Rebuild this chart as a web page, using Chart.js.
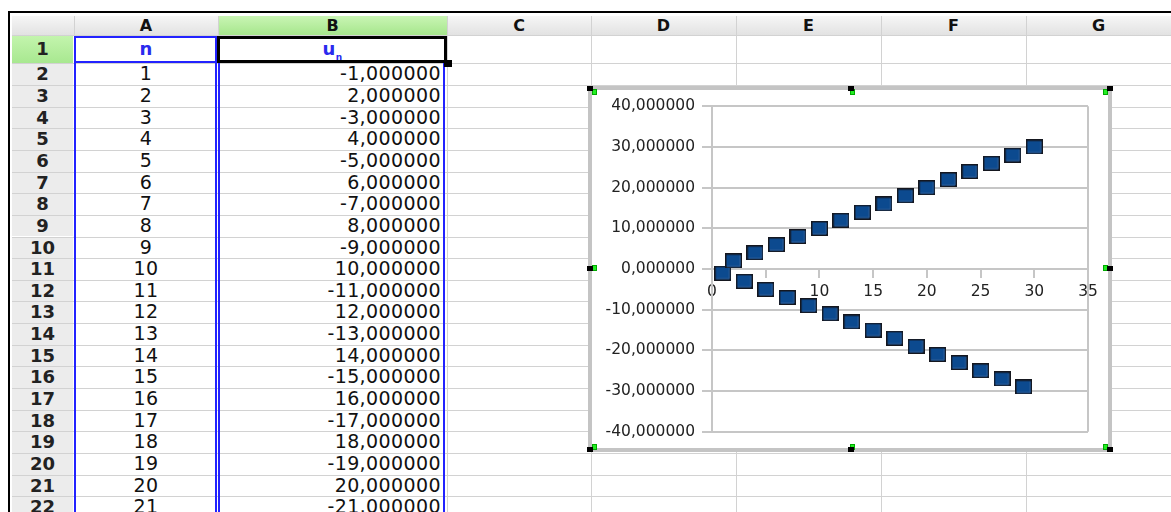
<!DOCTYPE html>
<html>
<head>
<meta charset="utf-8">
<script src="https://cdn.jsdelivr.net/npm/chart.js@4.4.0/dist/chart.umd.min.js"></script>
<style>
  body { margin: 0; background: #fff; width: 1171px; height: 512px; overflow: hidden; position: relative; font-family: "DejaVu Sans", sans-serif; }
  .c { position: absolute; box-sizing: border-box; }
  .hl { position: absolute; height: 1px; background: #d2d2d2; }
  .vl { position: absolute; width: 1px; background: #d2d2d2; }
  .colhead { position: absolute; top: 16px; height: 19px; line-height: 19px; text-align: center; font-weight: bold; font-size: 16px; color: #111;
             background: linear-gradient(#f6f6f6, #e2e2e2); }
  .rowhead { position: absolute; left: 12px; width: 61px; text-align: center; font-weight: bold; font-size: 18px; color: #222; background: #ececec; }
  .cell { position: absolute; font-size: 19px; letter-spacing: 0.4px; color: #111; white-space: nowrap; }
  #frame { position: absolute; left: 588px; top: 86px; width: 524px; height: 366px; border: 4px solid #c4c4c4; background: #fff; box-sizing: border-box; }
  #chart { position: absolute; left: 592px; top: 90px; }
  #handles { position: absolute; left: 0; top: 0; }
  .hb { position: absolute; width: 6px; height: 5px; background: #000; }
  .hg { position: absolute; width: 5px; height: 6px; background: #22ee22; border: 1px solid #0a0; box-sizing: border-box; }
</style>
</head>
<body>
<div id="sheet"></div>
<div id="frame"></div>
<canvas id="chart" width="516" height="358"></canvas>
<div id="handles"></div>
<script>
// values of column A (n) and column B (u_n)
const nValues = [1, 2, 3, 4, 5, 6, 7, 8, 9, 10, 11, 12, 13, 14, 15,
                 16, 17, 18, 19, 20, 21, 22, 23, 24, 25, 26, 27, 28, 29, 30];
const uValues = [-1, 2, -3, 4, -5, 6, -7, 8, -9, 10, -11, 12, -13, 14, -15,
                 16, -17, 18, -19, 20, -21, 22, -23, 24, -25, 26, -27, 28, -29, 30];
const columnLetters = ['A', 'B', 'C', 'D', 'E', 'F', 'G'];
const xTicks = [0, 5, 10, 15, 20, 25, 30, 35];
const yTicks = [-40, -30, -20, -10, 0, 10, 20, 30, 40];
const shownRows = 21;

function fmt(v) {
    return v.toFixed(6).replace('.', ',');
}

function add(cls, style, text, parent) {
    const d = document.createElement('div');
    d.className = cls;
    Object.assign(d.style, style);
    if (text !== undefined) d.innerHTML = text;
    document.getElementById(parent || 'sheet').appendChild(d);
    return d;
}

function buildSheet() {
    const colEdges = [74, 218, 447, 591, 736, 881, 1026, 1171];
    const rowTop = 63.3;
    const rowH = 21.65;

    // outer black frame
    add('c', { left: '8px', top: '11px', width: '1163px', height: '2px', background: '#000' });
    add('c', { left: '8px', top: '11px', width: '2px', height: '501px', background: '#000' });

    // column headers
    add('c', { left: '12px', top: '16px', width: '62px', height: '19px', background: 'linear-gradient(#f6f6f6, #e2e2e2)' });
    columnLetters.forEach((l, i) => {
        const d = add('colhead', { left: colEdges[i] + 'px', width: (colEdges[i + 1] - colEdges[i]) + 'px' }, l);
        if (l === 'B') d.style.background = 'linear-gradient(#c9f5b4, #a6e68c)';
    });

    // row headers
    add('rowhead', { top: '35px', height: '28px', lineHeight: '28px', background: 'linear-gradient(#c4f5ae, #a8e890)' }, '1');
    for (let r = 0; r < shownRows + 1; r++) {
        const top = rowTop + r * rowH;
        add('rowhead', { top: top + 'px', height: rowH + 'px', lineHeight: rowH + 'px' }, String(r + 2));
    }

    // grid lines
    add('hl', { left: '12px', top: '35px', width: '1159px' });
    for (let r = 0; r < shownRows + 2; r++) {
        add('hl', { left: '12px', top: (rowTop + r * rowH) + 'px', width: '1159px' });
    }
    colEdges.forEach(x => add('vl', { left: x + 'px', top: '16px', height: '496px' }));

    // header cells
    add('cell', { left: '74px', top: '35px', width: '144px', height: '28px', lineHeight: '28px', textAlign: 'center',
                  fontWeight: 'bold', color: '#2a2aee', fontSize: '18px' }, 'n');
    add('cell', { left: '218px', top: '35px', width: '229px', height: '28px', lineHeight: '28px', textAlign: 'center',
                  fontWeight: 'bold', color: '#2a2aee', fontSize: '18px' }, 'u<sub style="font-size:9px">n</sub>');

    // data cells
    for (let r = 0; r < shownRows; r++) {
        const top = rowTop + r * rowH;
        add('cell', { left: '74px', top: top + 'px', width: '144px', height: rowH + 'px', lineHeight: rowH + 'px', textAlign: 'center' },
            String(nValues[r]));
        add('cell', { left: '218px', top: top + 'px', width: '223px', height: rowH + 'px', lineHeight: rowH + 'px', textAlign: 'right' },
            fmt(uValues[r]));
    }

    // selection borders
    const blue = '#2222ff';
    add('c', { left: '74px', top: '36px', width: '143px', height: '27px', border: '2px solid ' + blue });
    add('c', { left: '74px', top: '63px', width: '2px', height: '449px', background: blue });
    add('c', { left: '215px', top: '63px', width: '2px', height: '449px', background: blue });
    add('c', { left: '218px', top: '63px', width: '2px', height: '449px', background: blue });
    add('c', { left: '443px', top: '63px', width: '2px', height: '449px', background: blue });
    add('c', { left: '217px', top: '36px', width: '230px', height: '27px', border: '3px solid #000' });
    add('c', { left: '444px', top: '60px', width: '8px', height: '7px', background: '#000' });
}

function addHandles() {
    const pts = [[587, 86], [848, 86], [1107, 86], [587, 266], [1107, 266], [587, 447], [848, 447], [1107, 447]];
    pts.forEach(p => {
        const gx = p[0] < 600 ? p[0] + 5 : (p[0] > 1100 ? p[0] - 4 : p[0] + 2);
        const gy = p[1] < 100 ? p[1] + 3 : (p[1] > 440 ? p[1] - 3 : p[1] - 1);
        add('hg', { left: gx + 'px', top: gy + 'px' }, undefined, 'handles');
        add('hb', { left: p[0] + 'px', top: p[1] + 'px' }, undefined, 'handles');
    });
}

function makeMarker() {
    const m = document.createElement('canvas');
    m.width = 17;
    m.height = 15;
    const g = m.getContext('2d');
    g.fillStyle = '#15171f';
    g.fillRect(0, 0, 17, 15);
    g.fillStyle = '#0c4a8f';
    g.fillRect(1.5, 1.5, 14, 12);
    g.fillStyle = '#2f5f99';
    g.fillRect(14.5, 2, 1, 11);
    g.fillRect(2, 12.5, 13, 1);
    return m;
}

document.addEventListener('DOMContentLoaded', function () {
    buildSheet();
    addHandles();

    const gridGray = '#c6c6c6';
    const tickFont = { family: 'DejaVu Sans', size: 15.5 };

    const ctx = document.getElementById('chart').getContext('2d');
    new Chart(ctx, {
        type: 'scatter',
        data: {
            datasets: [{
                data: nValues.map((x, i) => ({ x, y: uValues[i] })),
                pointStyle: makeMarker(),
                pointRadius: 8,
                pointHoverRadius: 8
            }]
        },
        options: {
            responsive: false,
            animation: false,
            devicePixelRatio: 1,
            layout: { padding: { left: 0, right: 20, top: 16, bottom: 16 } },
            plugins: { legend: { display: false }, tooltip: { enabled: false } },
            scales: {
                x: {
                    type: 'linear',
                    position: { y: 0 },
                    min: xTicks[0],
                    max: xTicks[xTicks.length - 1],
                    afterBuildTicks: s => { s.ticks = xTicks.map(v => ({ value: v })); },
                    ticks: { font: tickFont, color: '#222', padding: 6, maxRotation: 0 },
                    grid: {
                        drawOnChartArea: true,
                        color: c => (c.tick && c.tick.value === 35 ? gridGray : 'rgba(0,0,0,0)'),
                        tickColor: gridGray,
                        tickLength: 8,
                        lineWidth: 2
                    },
                    border: { color: gridGray, width: 2 }
                },
                y: {
                    min: yTicks[0],
                    max: yTicks[yTicks.length - 1],
                    afterBuildTicks: s => { s.ticks = yTicks.map(v => ({ value: v })); },
                    ticks: { font: tickFont, color: '#222', padding: 7, callback: v => fmt(v) },
                    grid: { color: gridGray, tickLength: 10, lineWidth: 2 },
                    border: { color: gridGray, width: 2 },
                    afterFit: s => { s.width = 120; }
                }
            }
        }
    });
});
</script>
</body>
</html>
